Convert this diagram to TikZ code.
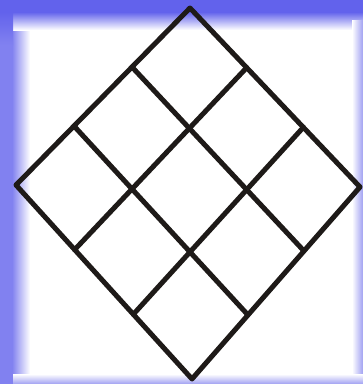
\documentclass[tikz,border=0pt]{standalone}
\usetikzlibrary{calc}
\definecolor{frameBlue}{HTML}{6262EC}
\definecolor{frameSoft}{HTML}{A0A0F2}
\definecolor{gridInk}{HTML}{1E1A18}

\begin{document}
\begin{tikzpicture}[x=1pt, y=-1pt,
    gridline/.style={draw=gridInk, line width=5pt, line cap=round, line join=round},
    band/.style={fill=frameBlue, draw=none}
]
    \useasboundingbox (0,0) rectangle (363,384);
    \fill[white] (0,0) rectangle (363,384);

    % Blue frame
    \shade[left color=frameBlue!80!white, right color=white] (12,28) rectangle (30,384);
    \shade[top color=frameBlue, bottom color=white] (0,12) rectangle (363,30);
    \shade[left color=white, right color=frameSoft] (352,20) rectangle (363,384);
    \shade[top color=white, bottom color=frameSoft] (0,374) rectangle (363,384);
    \fill[band] (0,0) rectangle (363,12);
    \shade[top color=frameBlue, bottom color=frameBlue!80!white] (0,12) rectangle (13,45);
    \fill[band, fill=frameBlue!80!white] (0,45) rectangle (13,384);

    % Corners of the diamond
    \coordinate (top) at (190,8);
    \coordinate (right) at (360,187);
    \coordinate (bottom) at (192,379);
    \coordinate (left) at (16,185);

    % Grid
    \draw[gridline] (top) -- (right) -- (bottom) -- (left) -- cycle;
    \foreach \i in {1,2} {
        \draw[gridline] ($(top)!\i/3!(left)$) -- ($(right)!\i/3!(bottom)$);
        \draw[gridline] ($(top)!\i/3!(right)$) -- ($(left)!\i/3!(bottom)$);
    }
\end{tikzpicture}
\end{document}
